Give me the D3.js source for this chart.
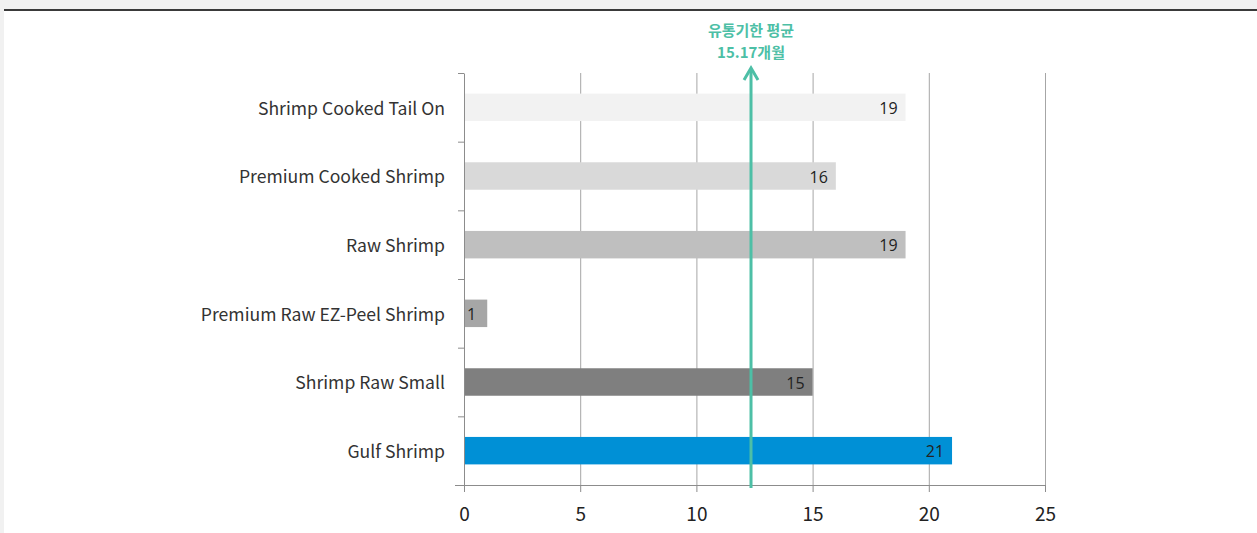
<!DOCTYPE html>
<html><head><meta charset="utf-8">
<script src="https://cdn.jsdelivr.net/npm/d3@7"></script>
<style>
html,body{margin:0;padding:0;background:#f1f1f1;}
svg{display:block;}
</style></head><body>
<svg id="chart" width="1257" height="533"></svg>
<script>
const categories = ["Shrimp Cooked Tail On","Premium Cooked Shrimp","Raw Shrimp","Premium Raw EZ-Peel Shrimp","Shrimp Raw Small","Gulf Shrimp"];
const values = [19,16,19,1,15,21];
const barColors = ["#f2f2f2","#d9d9d9","#bfbfbf","#a6a6a6","#7f7f7f","#0090d6"];
const xTicks = [0,5,10,15,20,25];
const markerValue = 12.35;
const markerLabel = ["유통기한 평균","15.17개월"];

(function(){
const svg = d3.select("#chart");
const W = 1257, H = 533;
svg.append("rect").attr("x",4).attr("y",10).attr("width",W-4).attr("height",H-10).attr("fill","#ffffff");
svg.append("rect").attr("x",4).attr("y",9).attr("width",W-4).attr("height",2).attr("fill","#3a3a3a");

const pLeft = 464, pRight = 1045, pTop = 73, pBottom = 485;
const x = d3.scaleLinear().domain([0,25]).range([pLeft,pRight]);
const y = d3.scaleBand().domain(categories).range([pTop,pBottom]).paddingInner(0.6).paddingOuter(0.3);
const yb = d3.scaleBand().domain(categories).range([pTop,pBottom]);

svg.append("g").selectAll("line").data(xTicks.slice(1)).join("line")
  .attr("x1",d=>x(d)+0.5).attr("x2",d=>x(d)+0.5).attr("y1",pTop).attr("y2",pBottom)
  .attr("stroke","#a6a6a6").attr("stroke-width",1);

svg.append("g").selectAll("rect").data(categories).join("rect")
  .attr("x",x(0)).attr("y",d=>y(d)).attr("height",y.bandwidth())
  .attr("width",(d,i)=>x(values[i])-x(0)).attr("fill",(d,i)=>barColors[i]);

svg.append("g").selectAll("text").data(categories).join("text")
  .attr("x",(d,i)=> values[i] < 3 ? x(0)+3 : x(values[i])-8)
  .attr("text-anchor",(d,i)=> values[i] < 3 ? "start" : "end")
  .attr("y",d=>y(d)+y.bandwidth()/2+1).attr("dy","0.36em")
  .attr("font-family","'Open Sans','Noto Sans CJK KR',sans-serif").attr("font-size",16)
  .attr("fill","#222").text((d,i)=>values[i]);

const xAxis = d3.axisBottom(x).tickValues(xTicks).tickSize(7).tickPadding(16).tickSizeOuter(0);
const gx = svg.append("g").attr("transform",`translate(0,${pBottom})`).call(xAxis);
gx.select(".domain").attr("stroke","#8c8c8c").attr("d",`M${pLeft-9},0.5H${pRight}`);
gx.selectAll(".tick line").attr("stroke","#8c8c8c");
gx.selectAll(".tick text").attr("font-family","'Noto Sans CJK KR','Open Sans',sans-serif").attr("font-size",19).attr("fill","#222");

const yAxis = d3.axisLeft(yb).tickValues([]).tickSizeOuter(0);
const gy = svg.append("g").attr("transform",`translate(${pLeft},0)`).call(yAxis);
gy.select(".domain").attr("stroke","#8c8c8c");
const bounds = categories.map(c=>yb(c)).concat([pBottom]);
gy.selectAll("line.bt").data(bounds).join("line").attr("class","bt")
  .attr("x1",-6).attr("x2",0).attr("y1",d=>d+0.5).attr("y2",d=>d+0.5).attr("stroke","#8c8c8c");
gy.selectAll("text.cat").data(categories).join("text").attr("class","cat")
  .attr("x",-19).attr("y",d=>yb(d)+yb.bandwidth()/2+1).attr("dy","0.36em")
  .attr("text-anchor","end").attr("font-family","'Noto Sans CJK KR','Open Sans',sans-serif")
  .attr("font-size",17.6).attr("fill","#333").text(d=>d);

const teal = "#4dbfa6";
const mx = x(markerValue);
svg.append("line").attr("x1",mx).attr("x2",mx).attr("y1",pBottom+3).attr("y2",70)
  .attr("stroke",teal).attr("stroke-width",3);
svg.append("path").attr("d",`M${mx-7},${80}L${mx},${68}L${mx+7},${80}`)
  .attr("fill","none").attr("stroke",teal).attr("stroke-width",3);
svg.append("g").selectAll("text").data(markerLabel).join("text")
  .attr("x",mx).attr("y",(d,i)=>36+i*22).attr("text-anchor","middle")
  .attr("font-family","'Noto Sans CJK KR',sans-serif").attr("font-weight","bold").attr("font-size",15)
  .attr("fill",teal).text(d=>d);
})();
</script>
</body></html>
